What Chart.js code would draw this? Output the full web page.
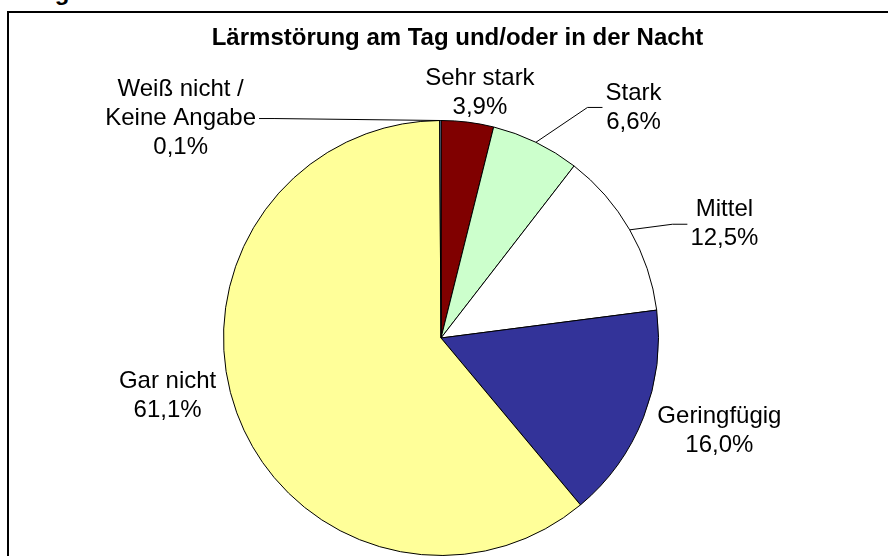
<!DOCTYPE html>
<html>
<head>
<meta charset="utf-8">
<script src="https://cdn.jsdelivr.net/npm/chart.js@4"></script>
<style>
  html, body { margin: 0; padding: 0; background: #fff; overflow: hidden; width: 888px; height: 556px; }
  #head { position: absolute; left: 40px; top: -22px; font: bold 24px "Liberation Sans", Arial, sans-serif; color: #000; }
  #frame { position: absolute; left: 7px; top: 11px; width: 897px; height: 560px; border: 2px solid #000; background: #fff; }
  #plot { display: block; }
</style>
</head>
<body>
<div id="head">ng</div>
<div id="frame"><canvas id="plot" width="897" height="560"></canvas></div>
<script>
const TITLE = 'Lärmstörung am Tag und/oder in der Nacht';
const categories = ['Sehr stark', 'Stark', 'Mittel', 'Geringfügig', 'Gar nicht', ['Weiß nicht /', 'Keine Angabe']];
const shares = [3.9, 6.6, 12.5, 16.0, 61.1, 0.1];
const sliceColors = ['#800000', '#CCFFCC', '#FFFFFF', '#333399', '#FFFF99', '#99CCFF'];

// where Excel put each label, relative to the pie centre, in units of the radius
const labelSpots = [
  [0.179, -1.128],
  [0.885, -1.060],
  [1.303, -0.523],
  [1.280, 0.427],
  [-1.257, 0.266],
  [-1.197, -1.009]
];

const FONT = '"Liberation Sans", Arial, sans-serif';
const LINE_H = 29;

function pct(v) {
  return v.toFixed(1).replace('.', ',') + '%';
}

const pieLabels = {
  id: 'pieLabels',
  afterDraw(chart) {
    const ctx = chart.ctx;
    const meta = chart.getDatasetMeta(0);

    ctx.save();
    ctx.fillStyle = '#000';
    ctx.font = 'bold 24px ' + FONT;
    ctx.textAlign = 'center';
    ctx.textBaseline = 'alphabetic';
    ctx.fillText(TITLE, chart.width / 2, 32);

    ctx.font = '24px ' + FONT;
    ctx.textBaseline = 'middle';
    ctx.strokeStyle = '#000';
    ctx.lineWidth = 1;

    meta.data.forEach((arc, i) => {
      const r = arc.outerRadius;
      const mid = (arc.startAngle + arc.endAngle) / 2;
      const ex = arc.x + r * Math.cos(mid);
      const ey = arc.y + r * Math.sin(mid);

      const name = categories[i];
      const lines = (Array.isArray(name) ? name : [name]).concat([pct(shares[i])]);
      const cx = arc.x + labelSpots[i][0] * r;
      const cy = arc.y + labelSpots[i][1] * r;
      const w = Math.max(...lines.map(l => ctx.measureText(l).width));
      const h = lines.length * LINE_H;

      // leader line only when the label sits away from its slice
      let ax, ay, bx;
      const horiz = Math.abs(cx - ex) > Math.abs(cy - ey);
      if (horiz) {
        const side = cx > ex ? -1 : 1;
        ax = cx + side * (w / 2 + 3);
        ay = cy;
        bx = ax + side * 15;
      } else {
        ax = cx;
        ay = cy + (cy < ey ? 1 : -1) * (h / 2 + 3);
        bx = ax;
      }
      if (Math.hypot(ax - ex, ay - ey) > 40) {
        ctx.beginPath();
        ctx.moveTo(ex, ey);
        ctx.lineTo(bx, ay);
        ctx.lineTo(ax, ay);
        ctx.stroke();
      }

      lines.forEach((l, k) => {
        ctx.fillText(l, cx, cy + (k - (lines.length - 1) / 2) * LINE_H);
      });
    });
    ctx.restore();
  }
};

const ctx = document.getElementById('plot');

const config = {
  type: 'pie',
  data: {
    labels: categories,
    datasets: [{
      data: shares,
      backgroundColor: sliceColors,
      borderColor: '#000',
      borderWidth: 1
    }]
  },
  options: {
    responsive: false,
    animation: false,
    layout: {
      padding: { left: 214, right: 247, top: 107, bottom: 17 }
    },
    plugins: {
      legend: { display: false },
      tooltip: { enabled: false },
      title: { display: false }
    }
  },
  plugins: [pieLabels]
};

const chart = new Chart(ctx, config);
</script>
</body>
</html>
